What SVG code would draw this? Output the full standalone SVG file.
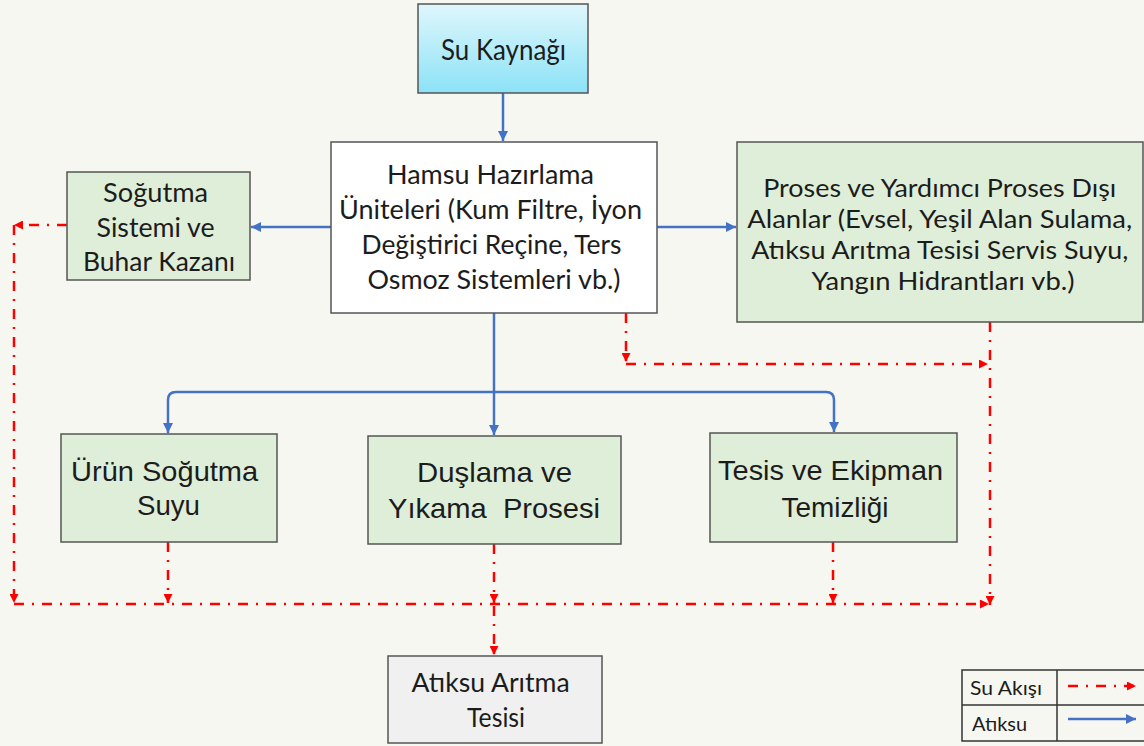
<svg xmlns="http://www.w3.org/2000/svg" width="1144" height="746" viewBox="0 0 1144 746">
<defs>
<linearGradient id="gCyan" x1="0" y1="0" x2="0" y2="1">
<stop offset="0" stop-color="#dff7fc"/>
<stop offset="1" stop-color="#8ce2f7"/>
</linearGradient>
<marker id="aBlue" viewBox="0 0 10 10" refX="10" refY="5" markerWidth="10" markerHeight="10" markerUnits="userSpaceOnUse" orient="auto">
<path d="M0,0 L10,5 L0,10 z" fill="#4472c4"/>
</marker>
<marker id="aRed" viewBox="0 0 10 10" refX="10" refY="5" markerWidth="9" markerHeight="9" markerUnits="userSpaceOnUse" orient="auto">
<path d="M0,0 L10,5 L0,10 z" fill="#ff0000"/>
</marker>
</defs>
<style>
.box{stroke:#555;stroke-width:1.5}
.green{fill:#dfeed8}
.c{font-family:"Lato","Liberation Sans",sans-serif;fill:#1c1c1c;text-anchor:middle}
.a{font-family:"Liberation Sans",Arial,sans-serif;fill:#1c1c1c;text-anchor:middle}
.blue{fill:none;stroke:#4472c4;stroke-width:2.5;marker-end:url(#aBlue)}
.red{fill:none;stroke:#ff0000;stroke-width:2.5;stroke-dasharray:10 8 2 8;marker-end:url(#aRed)}
</style>
<rect width="1144" height="746" fill="#f7f7f2"/>

<g id="connectors">
<path class="blue" d="M503 93 V141"/>
<path class="blue" d="M331 227 H251"/>
<path class="blue" d="M657 227 H736"/>
<path class="blue" d="M494 313 V435"/>
<path class="blue" d="M494 392 H176 Q168 392 168 400 V433"/>
<path class="blue" d="M494 392 H826 Q834 392 834 400 V432"/>
<path class="red" d="M67 225 H14"/>
<path class="red" d="M14 225 V603"/>
<path class="red" d="M14 604 H989"/>
<path class="red" d="M168 542 V603"/>
<path class="red" d="M494 544 V603"/>
<path class="red" d="M833 542 V603"/>
<path class="red" d="M990 322 V605"/>
<path class="red" d="M494 606 V655"/>
<path class="red" d="M626 313 V362"/>
<path class="red" d="M626 364 H988"/>
</g>

<g id="su-kaynagi">
<rect class="box" x="418" y="4" width="170" height="89" fill="url(#gCyan)"/>
<text class="c" x="503.5" y="60" font-size="28" textLength="125" lengthAdjust="spacingAndGlyphs">Su Kaynağı</text>
</g>

<g id="hamsu">
<rect class="box" x="331" y="142" width="326" height="171" fill="#ffffff"/>
<text class="c" font-size="27.5">
<tspan x="494" y="184" textLength="207" lengthAdjust="spacingAndGlyphs">Hamsu Hazırlama</tspan>
<tspan x="494" y="219" textLength="303" lengthAdjust="spacingAndGlyphs">Üniteleri (Kum Filtre, İyon</tspan>
<tspan x="495" y="254" textLength="260" lengthAdjust="spacingAndGlyphs">Değiştirici Reçine, Ters</tspan>
<tspan x="494" y="289" textLength="253" lengthAdjust="spacingAndGlyphs">Osmoz Sistemleri vb.)</tspan>
</text>
</g>

<g id="sogutma">
<rect class="box green" x="67" y="172" width="183" height="108"/>
<text class="c" font-size="26.5">
<tspan x="159" y="202" textLength="105" lengthAdjust="spacingAndGlyphs">Soğutma</tspan>
<tspan x="159" y="237" textLength="118" lengthAdjust="spacingAndGlyphs">Sistemi ve</tspan>
<tspan x="159" y="271" textLength="152" lengthAdjust="spacingAndGlyphs">Buhar Kazanı</tspan>
</text>
</g>

<g id="proses">
<rect class="box green" x="737" y="142" width="406" height="180"/>
<text class="c" font-size="25.5">
<tspan x="943" y="197" textLength="353" lengthAdjust="spacingAndGlyphs">Proses ve Yardımcı Proses Dışı</tspan>
<tspan x="943" y="228" textLength="385" lengthAdjust="spacingAndGlyphs">Alanlar (Evsel, Yeşil Alan Sulama,</tspan>
<tspan x="943" y="259" textLength="377" lengthAdjust="spacingAndGlyphs">Atıksu Arıtma Tesisi Servis Suyu,</tspan>
<tspan x="943" y="290" textLength="263" lengthAdjust="spacingAndGlyphs">Yangın Hidrantları vb.)</tspan>
</text>
</g>

<g id="urun-sogutma">
<rect class="box green" x="61" y="434" width="216" height="108"/>
<text class="a" font-size="28">
<tspan x="168.5" y="481" textLength="187" lengthAdjust="spacingAndGlyphs">Ürün Soğutma</tspan>
<tspan x="168.5" y="515" textLength="63" lengthAdjust="spacingAndGlyphs">Suyu</tspan>
</text>
</g>

<g id="duslama">
<rect class="box green" x="368" y="436" width="253" height="108"/>
<text class="a" font-size="28" xml:space="preserve"><tspan x="494.5" y="482" textLength="155" lengthAdjust="spacingAndGlyphs">Duşlama ve</tspan><tspan x="494" y="518" textLength="212" lengthAdjust="spacingAndGlyphs">Yıkama  Prosesi</tspan></text>
</g>

<g id="tesis-ekipman">
<rect class="box green" x="710" y="433" width="247" height="109"/>
<text class="a" font-size="28">
<tspan x="834.5" y="480" textLength="225" lengthAdjust="spacingAndGlyphs">Tesis ve Ekipman</tspan>
<tspan x="835" y="517" textLength="107" lengthAdjust="spacingAndGlyphs">Temizliği</tspan>
</text>
</g>

<g id="atiksu-aritma">
<rect class="box" x="388" y="656" width="214" height="87" fill="#f0f0f0"/>
<text class="c" font-size="26.5">
<tspan x="494" y="692" textLength="158" lengthAdjust="spacingAndGlyphs">Atıksu Arıtma</tspan>
<tspan x="496" y="727" textLength="58" lengthAdjust="spacingAndGlyphs">Tesisi</tspan>
</text>
</g>

<g id="legend">
<rect x="962" y="670" width="190" height="71" fill="#f7f7f2" stroke="#333" stroke-width="1.5"/>
<line x1="962" y1="705" x2="1144" y2="705" stroke="#333" stroke-width="1.5"/>
<line x1="1057" y1="670" x2="1057" y2="741" stroke="#333" stroke-width="1.5"/>
<text class="c" x="1006" y="695" font-size="20" textLength="72" lengthAdjust="spacingAndGlyphs">Su Akışı</text>
<text class="c" x="999.5" y="731" font-size="20" textLength="55" lengthAdjust="spacingAndGlyphs">Atıksu</text>
<path class="red" d="M1068 686 H1136"/>
<path class="blue" d="M1068 719 H1136"/>
</g>
</svg>
